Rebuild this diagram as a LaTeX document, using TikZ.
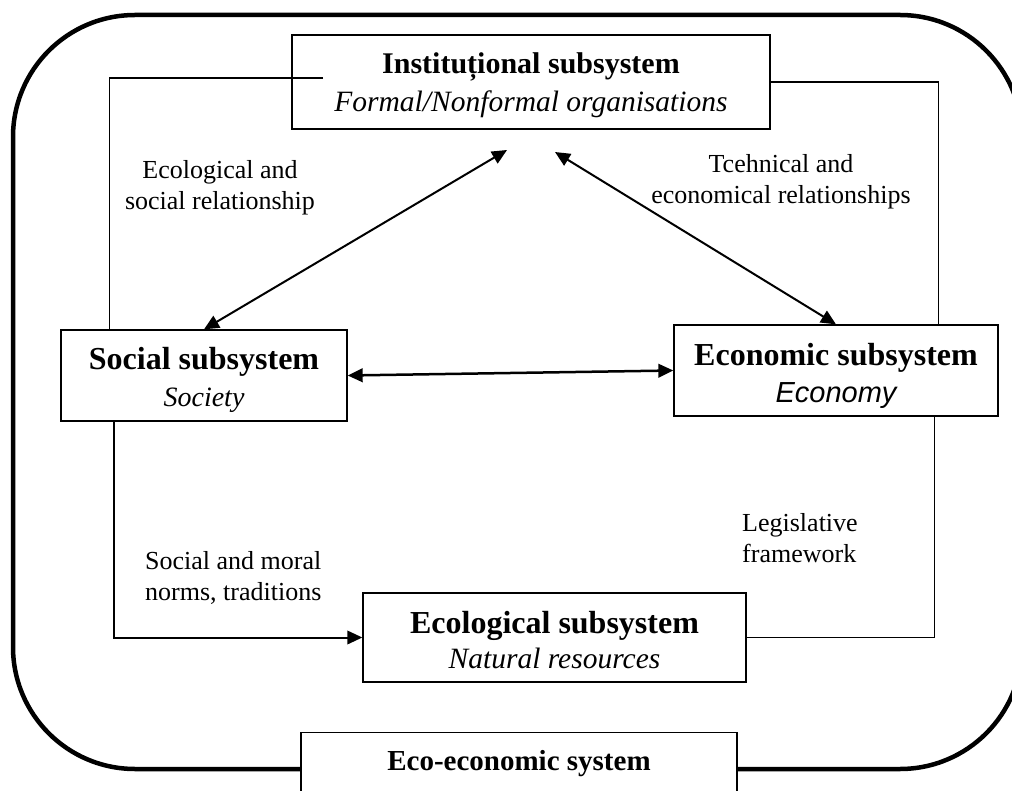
\documentclass[tikz,border=0pt]{standalone}
\usepackage{fontspec}
\setmainfont{Liberation Serif}
\newfontfamily\arialfont{Liberation Sans}
\usetikzlibrary{arrows.meta}
\begin{document}
\begin{tikzpicture}[x=1pt,y=-1pt,
  box/.style={draw=black, line width=1.3pt, fill=white, align=center, inner sep=0pt},
  lbl/.style={font=\fontsize{26}{31}\selectfont, inner sep=0pt},
  thinline/.style={line width=1.3pt},
  tip/.tip={Triangle[length=15pt,width=13.5pt]},
  biarrow/.style={line width=2pt, tip-tip},
  onearrow/.style={line width=2pt, -tip}]
\useasboundingbox (0,0) rectangle (1012,791);
% outer frame
\draw[line width=4.5pt, rounded corners=122pt] (13,15) rectangle (1022,769);
% boxes
\node[box, minimum width=478, minimum height=94, font=\fontsize{30}{38}\selectfont] (inst) at (531,82)
  {\rule{0pt}{28pt}{\bfseries Instituțional subsystem}\\{\fontsize{29.5}{38}\selectfont\itshape Formal/Nonformal organisations}};
\node[box, minimum width=286, minimum height=91, font=\fontsize{32}{37}\selectfont] (social) at (204,375.5)
  {\rule{0pt}{32pt}{\bfseries Social subsystem}\\{\fontsize{28}{37}\selectfont\itshape Society}};
\node[box, minimum width=324, minimum height=91, font=\fontsize{32}{37}\selectfont] (econ) at (836,370.5)
  {\rule{0pt}{34pt}{\bfseries Economic subsystem}\\{\arialfont\fontsize{29}{37}\selectfont\itshape Economy}};
\node[box, minimum width=383, minimum height=89, font=\fontsize{32}{35}\selectfont] (ecol) at (554.5,637.5)
  {\rule{0pt}{28pt}{\bfseries Ecological subsystem}\\{\fontsize{29.5}{35}\selectfont\itshape Natural resources}};
\node[box, minimum width=436, minimum height=62, anchor=north, font=\fontsize{29}{33}\selectfont\bfseries] (eco) at (519,732)
  {Eco-economic system};
% labels
\node[lbl, align=center] (l1) at (220,188) {Ecological and\\social relationship};
\node[lbl, align=center] (l2) at (781,182) {Tcehnical and\\economical relationships};
\node[lbl, align=left, anchor=west] (l3) at (145,578) {Social and moral\\norms, traditions};
\node[lbl, align=left, anchor=west] (l4) at (742,538) {Legislative\\framework};
% connectors
\coordinate (instL) at (323,78);
\coordinate (instA) at (507,150);
\coordinate (instB) at (555,152);
\draw[thinline] (instL) -| ([xshift=49pt]social.north west);
\draw[thinline] (inst.east) -| ([xshift=-60pt]econ.north east);
\draw[biarrow] (instA) -- (social.north);
\draw[biarrow] (instB) -- (econ.north);
\draw[biarrow, line width=2.5pt] (social.east) -- (econ.west);
\draw[onearrow] ([xshift=54pt]social.south west) |- (ecol.west);
\draw[thinline, line width=1.6pt] ([xshift=-64pt]econ.south east) |- (ecol.east);
\end{tikzpicture}
\end{document}
